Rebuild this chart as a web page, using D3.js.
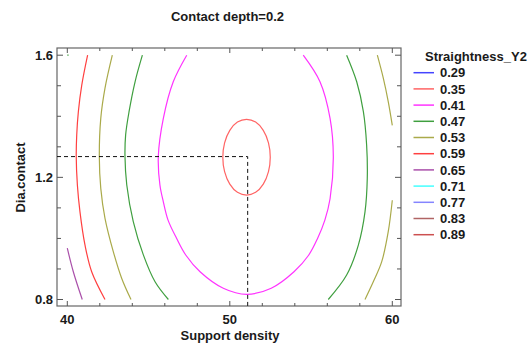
<!DOCTYPE html>
<html><head><meta charset="utf-8">
<script src="https://cdn.jsdelivr.net/npm/d3@7"></script>
<style>
body{margin:0;background:#fff;}
text{font-family:"Liberation Sans",Arial,sans-serif;font-weight:bold;fill:#1a1a1a;}
</style></head>
<body><svg id="c" width="528" height="346"></svg>
<script>
const title = "Contact depth=0.2";
const xLabel = "Support density";
const yLabel = "Dia.contact";
const legendTitle = "Straightness_Y2";
const levels = [0.29,0.35,0.41,0.47,0.53,0.59,0.65,0.71,0.77,0.83,0.89];
const levelColors = ["#4444ff","#ff6464","#ff33ff","#3f9f3f","#aaaa4a","#ff4040","#aa50aa","#44ffff","#8585ff","#b06464","#cc5050"];
const xTicksMajor = [40,50,60];
const yTicksMajor = [0.8,1.2,1.6];
const marker = [51.1, 1.268];

// contour paths
const c059L = [[41.25,1.6],[40.89,1.502],[40.68,1.415],[40.58,1.339],[40.55,1.268],[40.62,1.175],[40.78,1.087],[41.09,0.978],[41.50,0.891],[42.32,0.8]];
const c053L = [[42.77,1.6],[42.32,1.492],[42.06,1.393],[41.97,1.268],[42.06,1.164],[42.32,1.066],[42.83,0.957],[43.35,0.869],[43.92,0.8]];
const c047L = [[44.62,1.6],[44.17,1.513],[43.80,1.415],[43.59,1.339],[43.55,1.268],[43.66,1.175],[44.06,1.055],[44.68,0.946],[45.40,0.858],[46.22,0.8]];
const c041 = [[47.35,1.6],[46.52,1.513],[45.91,1.393],[45.60,1.268],[45.70,1.175],[45.91,1.120],[46.20,1.060],[46.73,1.000],[47.30,0.945],[48.17,0.891],[49.60,0.837],[51.04,0.817],[52.55,0.837],[53.95,0.891],[54.85,0.945],[55.40,1.000],[55.85,1.060],[56.17,1.130],[56.37,1.268],[56.17,1.393],[55.55,1.513],[54.52,1.6]];
const c035 = [[52.49,1.266],[52.38,1.313],[52.06,1.354],[51.59,1.381],[51.03,1.390],[50.47,1.381],[50.00,1.354],[49.68,1.313],[49.57,1.266],[49.68,1.219],[50.00,1.178],[50.47,1.151],[51.03,1.142],[51.59,1.151],[52.06,1.178],[52.38,1.219]];
const c047R = [[57.19,1.6],[57.81,1.513],[58.22,1.415],[58.42,1.306],[58.46,1.197],[58.32,1.087],[57.91,0.978],[57.19,0.880],[56.06,0.8]];
const c053RU = [[59.08,1.6],[59.45,1.524],[59.75,1.448],[60.0,1.37]];
const c053RL = [[60.0,1.125],[59.75,1.022],[59.35,0.924],[58.83,0.858],[58.32,0.8]];
const c065 = [[40.0,0.968],[40.37,0.891],[40.92,0.8]];
const c047Dot = [[40.0,1.6],[40.08,1.6]];

const contours = [
  {level:0.59, closed:false, pts:c059L},
  {level:0.53, closed:false, pts:c053L},
  {level:0.47, closed:false, pts:c047L},
  {level:0.41, closed:false, pts:c041},
  {level:0.35, closed:true,  pts:c035},
  {level:0.47, closed:false, pts:c047R},
  {level:0.53, closed:false, pts:c053RU},
  {level:0.53, closed:false, pts:c053RL},
  {level:0.65, closed:false, pts:c065},
  {level:0.47, closed:false, pts:c047Dot}
];

const svg = d3.select("#c");
const frame = {l:57, r:401, t:48, b:306};
const x = d3.scaleLinear().domain([40,60]).range([67.3,392.3]);
const y = d3.scaleLinear().domain([0.8,1.6]).range([299.5,55.2]);
const color = d3.scaleOrdinal().domain(levels).range(levelColors);
const FS = "13px";

svg.append("text").attr("x",227.5).attr("y",21).attr("text-anchor","middle").attr("font-size",FS).text(title);

svg.append("rect").attr("x",frame.l).attr("y",frame.t).attr("width",frame.r-frame.l).attr("height",frame.b-frame.t)
  .attr("fill","none").attr("stroke","#666").attr("stroke-width",1.2);

const xt = d3.range(40,60.01,2);
const yt = d3.range(0.8,1.601,0.1);
const tk = svg.append("g").attr("stroke","#555").attr("stroke-width",1);
xt.forEach(v=>{
  const major = xTicksMajor.some(m=>Math.abs(m-v)<1e-6);
  const L = major?5:3;
  tk.append("line").attr("x1",x(v)).attr("x2",x(v)).attr("y1",frame.b).attr("y2",frame.b-L);
  tk.append("line").attr("x1",x(v)).attr("x2",x(v)).attr("y1",frame.t).attr("y2",frame.t+L);
});
yt.forEach(v=>{
  const major = yTicksMajor.some(m=>Math.abs(m-v)<1e-6);
  const L = major?6:4;
  tk.append("line").attr("y1",y(v)).attr("y2",y(v)).attr("x1",frame.l).attr("x2",frame.l+L);
  tk.append("line").attr("y1",y(v)).attr("y2",y(v)).attr("x1",frame.r).attr("x2",frame.r-L);
});
xTicksMajor.forEach(v=>{
  svg.append("text").attr("x",x(v)).attr("y",323.5).attr("text-anchor","middle").attr("font-size",FS).text(v);
});
yTicksMajor.forEach(v=>{
  svg.append("text").attr("x",53).attr("y",y(v)+4.7).attr("text-anchor","end").attr("font-size",FS).text(d3.format(".1f")(v));
});
svg.append("text").attr("x",230).attr("y",340).attr("text-anchor","middle").attr("font-size",FS).text(xLabel);
svg.append("text").attr("transform","translate(25,177.5) rotate(-90)").attr("text-anchor","middle").attr("font-size",FS).text(yLabel);

const lineOpen = d3.line().x(d=>x(d[0])).y(d=>y(d[1])).curve(d3.curveCatmullRom.alpha(0.5));
const lineClosed = d3.line().x(d=>x(d[0])).y(d=>y(d[1])).curve(d3.curveCatmullRomClosed.alpha(0.5));
contours.forEach(c=>{
  svg.append("path").attr("d",(c.closed?lineClosed:lineOpen)(c.pts))
    .attr("fill","none").attr("stroke",color(c.level)).attr("stroke-width",1.2);
});

svg.append("path")
  .attr("d",`M${frame.l},${y(marker[1])}H${x(marker[0])}V${frame.b}`)
  .attr("fill","none").attr("stroke","#111").attr("stroke-width",1).attr("stroke-dasharray","4,3");

svg.append("text").attr("x",425).attr("y",61).attr("font-size",FS).text(legendTitle);
levels.forEach((lv,i)=>{
  const yy = 72.7 + i*16.2;
  svg.append("line").attr("x1",413.5).attr("x2",434).attr("y1",yy).attr("y2",yy)
    .attr("stroke",color(lv)).attr("stroke-width",1.5);
  svg.append("text").attr("x",440).attr("y",yy+4.7).attr("font-size",FS).text(d3.format(".2f")(lv));
});
</script></body></html>
